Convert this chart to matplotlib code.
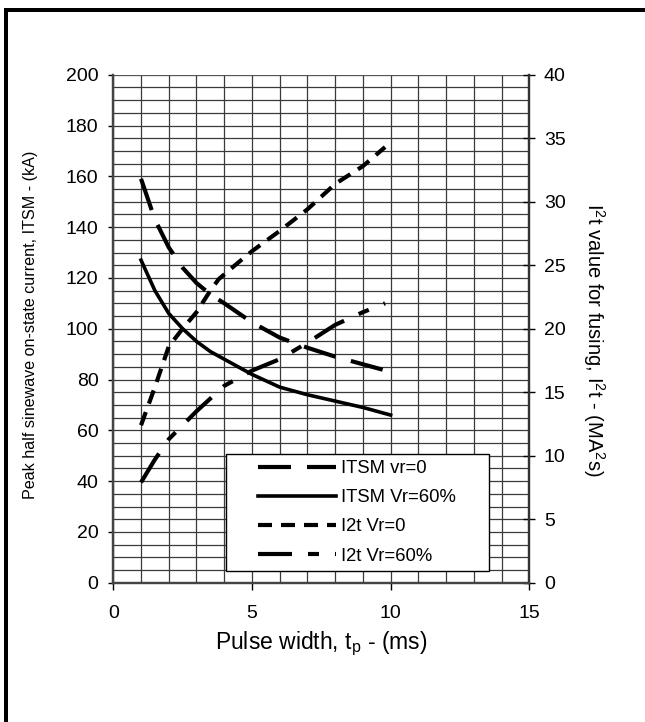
import matplotlib
matplotlib.use("Agg")
import matplotlib.pyplot as plt
from matplotlib.patches import Rectangle
import numpy as np

plt.rcParams['font.family'] = ['Liberation Sans', 'DejaVu Sans']
plt.rcParams['mathtext.default'] = 'regular'
plt.rcParams['lines.scale_dashes'] = False

# ---- data ----
t_itsm = [1, 1.5, 2, 2.5, 3, 3.5, 4, 5, 6, 7, 8, 9, 10]
itsm_vr0 = [159, 143, 132, 124, 118, 113.5, 110, 102.5, 96.5, 92.5, 89, 86, 83]
itsm_vr60 = [127, 115, 106, 100, 95, 91, 88, 82, 77, 74, 71.5, 69, 66]

t_i2t = [1, 1.5, 2, 2.5, 3, 3.5, 3.8, 4.5, 5, 6, 7, 8, 9, 9.8]
i2t_vr0 = [12.4, 15.4, 18.6, 20.0, 21.3, 23.0, 23.9, 25.2, 26.1, 27.7, 29.4, 31.4, 32.8, 34.3]
t_i2t60 = [1, 1.5, 2, 3, 4, 5, 6, 7, 8, 9, 9.8]
i2t_vr60 = [7.9, 9.7, 11.3, 13.5, 15.5, 16.7, 17.6, 18.9, 20.3, 21.3, 22.0]

labels = ['ITSM vr=0', 'ITSM Vr=60%', 'I2t Vr=0', 'I2t Vr=60%']

xticks = [0, 5, 10, 15]
yticks_left = list(range(0, 201, 20))
yticks_right = list(range(0, 41, 5))

W, H = 645, 722
fig = plt.figure(figsize=(W / 100, H / 100), dpi=100)
fig.patch.set_facecolor('white')

ax_l, ax_r, ax_t, ax_b = 113.3, 529.3, 74.7, 582.7
ax = fig.add_axes([ax_l / W, 1 - ax_b / H, (ax_r - ax_l) / W, (ax_b - ax_t) / H])
ax2 = ax.twinx()

ax.set_xlim(0, 15)
ax.set_ylim(0, 200)
ax2.set_ylim(0, 40)

# grid
for xv in np.arange(0, 15.01, 1):
    ax.axvline(xv, color='#3a3a3a', lw=0.9, zorder=1)
for yv in np.arange(0, 200.01, 5):
    ax.axhline(yv, color='#3a3a3a', lw=0.9, zorder=1)

px = 72 / 100.0  # points per pixel
l1, = ax.plot(t_itsm, itsm_vr0, color='black', lw=3.0, dashes=(33 * px, 16 * px),
              solid_capstyle='butt', dash_capstyle='butt', zorder=3)
l2, = ax.plot(t_itsm, itsm_vr60, color='black', lw=2.6, zorder=3)
l3, = ax2.plot(t_i2t, i2t_vr0, color='black', lw=3.0, dashes=(14 * px, 9 * px),
               dash_capstyle='butt', zorder=3)
l4, = ax2.plot(t_i2t60, i2t_vr60, color='black', lw=3.0,
               dashes=(34 * px, 16 * px, 11 * px, 16 * px), dash_capstyle='butt', zorder=3)

ax.set_xticks(xticks)
ax.set_yticks(yticks_left)
ax2.set_yticks(yticks_right)
ax.tick_params(axis='y', direction='out', length=3.6, width=1, pad=7, labelsize=14, colors='black')
ax.tick_params(axis='x', direction='out', length=4.8, width=1, pad=11, labelsize=14)
ax2.tick_params(axis='y', direction='inout', length=9, width=1, pad=6, labelsize=14)

for a in (ax, ax2):
    a.spines['top'].set_visible(False)
    a.spines['left'].set_color('#444444')
    a.spines['left'].set_linewidth(1.6)
    a.spines['right'].set_color('#333333')
    a.spines['right'].set_linewidth(1.6)
    a.spines['bottom'].set_color('#444444')
    a.spines['bottom'].set_linewidth(1.6)
ax.axhline(200, color='#555555', lw=1.4, zorder=2)

# legend box
lb_x0, lb_y0, lb_x1, lb_y1 = 226, 454, 489.3, 570.7
box = Rectangle(((lb_x0 - ax_l) / (ax_r - ax_l), (ax_b - lb_y1) / (ax_b - ax_t)),
                (lb_x1 - lb_x0) / (ax_r - ax_l), (lb_y1 - lb_y0) / (ax_b - ax_t),
                transform=ax.transAxes, facecolor='white', edgecolor='black', lw=1.0, zorder=4)
ax2.add_patch(box)
leg = ax2.legend([l1, l2, l3, l4], labels, loc='upper left',
                 bbox_to_anchor=((258 - ax_l) / (ax_r - ax_l), (ax_b - 460) / (ax_b - ax_t)),
                 frameon=False, fontsize=13.3, handlelength=4.2, handletextpad=0.3,
                 labelspacing=0.66, borderpad=0, borderaxespad=0)
leg.set_zorder(5)

# axis labels
fig.text(321 / W, 1 - 644 / H, 'Pulse width, t$_{p}$ - (ms)', ha='center', va='center', fontsize=16.5)
fig.text(31 / W, 1 - 325 / H, 'Peak half sinewave on-state current, ITSM - (kA)',
         ha='center', va='center', rotation=90, fontsize=11.6)
fig.text(594 / W, 1 - 340 / H, 'I$^{2}$t value for fusing, I$^{2}$t - (MA$^{2}$s)',
         ha='center', va='center', rotation=270, fontsize=14.5)

# frame of the picture (left and top)
fig.add_artist(Rectangle((4 / W, 0), 4 / W, 1 - 8 / H, transform=fig.transFigure,
                         facecolor='black', edgecolor='none'))
fig.add_artist(Rectangle((4 / W, 1 - 12 / H), 1 - 4 / W, 4 / H, transform=fig.transFigure,
                         facecolor='black', edgecolor='none'))

fig.savefig('out.png', dpi=100, facecolor='white')
